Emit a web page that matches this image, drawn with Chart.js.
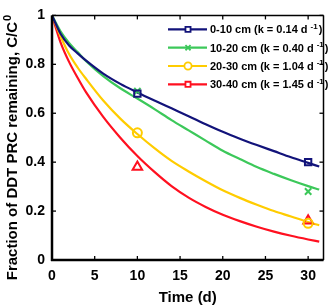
<!DOCTYPE html>
<html>
<head>
<meta charset="utf-8">
<script src="https://cdn.jsdelivr.net/npm/chart.js@4.4.1/dist/chart.umd.min.js"></script>
<style>
  html, body { margin: 0; padding: 0; background: #fff; }
  #wrap { width: 331px; height: 307px; }
</style>
</head>
<body>
<div id="wrap"><canvas id="chart"></canvas></div>
<script>
  // model curves
  const curveDays = [0, 1, 2, 3, 4, 6, 8, 10, 12, 14, 16, 18, 20, 22, 24, 26, 28, 30, 31.3];
  const fit0to10 = [1, 0.925, 0.877, 0.845, 0.815, 0.762, 0.72, 0.685, 0.652, 0.62, 0.588, 0.555, 0.524, 0.496, 0.47, 0.445, 0.42, 0.397, 0.382];
  const fit10to20 = [1, 0.935, 0.887, 0.85, 0.813, 0.752, 0.702, 0.66, 0.617, 0.572, 0.53, 0.488, 0.447, 0.413, 0.38, 0.352, 0.326, 0.302, 0.288];
  const fit20to30 = [1, 0.915, 0.842, 0.787, 0.74, 0.652, 0.578, 0.515, 0.457, 0.405, 0.362, 0.322, 0.285, 0.254, 0.226, 0.2, 0.178, 0.155, 0.142];
  const fit30to40 = [1, 0.89, 0.81, 0.745, 0.685, 0.585, 0.5, 0.425, 0.36, 0.302, 0.255, 0.217, 0.185, 0.159, 0.136, 0.116, 0.099, 0.084, 0.075];

  // measured points
  const sampleDays = [10, 30];
  const obs0to10 = [0.68, 0.40];
  const obs10to20 = [0.69, 0.28];
  const obs20to30 = [0.52, 0.15];
  const obs30to40 = [0.38, 0.16];

  const depthLabels = ["0-10 cm", "10-20 cm", "20-30 cm", "30-40 cm"];
  const rateLabels = ["0.14", "0.40", "1.04", "1.45"];
  const xTicks = [0, 5, 10, 15, 20, 25, 30];
  const yTicks = [0, 0.2, 0.4, 0.6, 0.8, 1];
  const yTitle = "Fraction of DDT PRC remaining, C/C";
  const yTitleSup = "0";

  const colors = ["#12137a", "#3cc85a", "#ffcc00", "#ff1020"];
  const markers = ["rect", "crossRot", "circle", "triangle"];
  const legendMarkers = ["rect", "crossRot", "circle", "rect"];
  const fonts = "'Liberation Sans', Arial, sans-serif";

  const pairs = (xs, ys) => xs.map((x, i) => ({ x: x, y: ys[i] }));

  const fits = [fit0to10, fit10to20, fit20to30, fit30to40];
  const observed = [obs0to10, obs10to20, obs20to30, obs30to40];

  const datasets = [];
  fits.forEach((fit, i) => {
    datasets.push({
      data: pairs(curveDays, fit),
      showLine: true,
      borderColor: colors[i],
      borderWidth: 2.2,
      pointRadius: 0,
      cubicInterpolationMode: "monotone",
      order: 2,
    });
  });
  observed.forEach((obs, i) => {
    datasets.push({
      data: pairs(sampleDays, obs),
      showLine: false,
      borderColor: colors[i],
      backgroundColor: "rgba(0,0,0,0)",
      pointStyle: markers[i],
      pointRadius: markers[i] === "triangle" ? 5.5 : 4.5,
      pointBorderWidth: 2,
      order: 1,
    });
  });

  const frameAndLegend = {
    id: "frameAndLegend",
    afterDraw(chart) {
      const { ctx, chartArea: a, scales } = chart;
      const sx = scales.x;
      const sy = scales.y;
      ctx.save();
      ctx.strokeStyle = "#000";
      ctx.lineWidth = 1.3;
      const seg = (x1, y1, x2, y2) => {
        ctx.beginPath();
        ctx.moveTo(x1, y1);
        ctx.lineTo(x2, y2);
        ctx.stroke();
      };
      xTicks.forEach((t) => {
        const px = sx.getPixelForValue(t);
        seg(px, a.bottom, px, a.bottom - 4);
        seg(px, a.top, px, a.top + 4);
      });
      yTicks.forEach((t) => {
        const py = sy.getPixelForValue(t);
        seg(a.left, py, a.left + 4, py);
        seg(a.right, py, a.right - 4, py);
      });
      ctx.lineWidth = 1.5;
      seg(a.left, a.top, a.right, a.top);
      seg(a.right, a.top, a.right, a.bottom);
      ctx.lineWidth = 2.5;
      seg(a.left, a.top, a.left, a.bottom + 1);
      seg(a.left - 1, a.bottom, a.right, a.bottom);

      // y title, rotated, with superscript
      ctx.save();
      ctx.translate(12, 148);
      ctx.rotate(-Math.PI / 2);
      ctx.fillStyle = "#000";
      ctx.textBaseline = "middle";
      ctx.textAlign = "left";
      ctx.font = "bold 15px " + fonts;
      const tw = ctx.measureText(yTitle).width;
      ctx.font = "bold 11px " + fonts;
      const sw = ctx.measureText(yTitleSup).width;
      const start = -(tw + sw) / 2;
      ctx.font = "bold 15px " + fonts;
      ctx.fillText(yTitle, start, 1);
      ctx.font = "bold 11px " + fonts;
      ctx.fillText(yTitleSup, start + tw + 1, -4);
      ctx.restore();

      // legend
      const x0 = a.left + 116;
      const x1 = a.left + 155;
      const xm = a.left + 136;
      const xt = a.left + 158;
      depthLabels.forEach((lab, i) => {
        const yy = a.top + 14 + i * 18.3;
        ctx.strokeStyle = colors[i];
        ctx.lineWidth = 2.2;
        seg(x0, yy, x1, yy);
        ctx.fillStyle = "#fff";
        ctx.lineWidth = 1.8;
        Chart.helpers.drawPoint(ctx, { pointStyle: legendMarkers[i], radius: 3.6, rotation: 0, borderWidth: 1.8 }, xm, yy);
        ctx.fillStyle = "#000";
        ctx.textBaseline = "middle";
        ctx.textAlign = "left";
        ctx.font = "bold 11px " + fonts;
        const main = lab + " (k = " + rateLabels[i] + " d ";
        ctx.fillText(main, xt, yy + 1);
        let w = ctx.measureText(main).width;
        ctx.font = "bold 8px " + fonts;
        ctx.fillText("-1", xt + w, yy - 3);
        w += ctx.measureText("-1").width + 1;
        ctx.font = "bold 11px " + fonts;
        ctx.fillText(")", xt + w, yy + 1);
      });
      ctx.restore();
    },
  };

  new Chart(document.getElementById("chart"), {
    type: "scatter",
    data: { datasets: datasets },
    plugins: [frameAndLegend],
    options: {
      responsive: true,
      maintainAspectRatio: false,
      animation: false,
      layout: { padding: { top: 10, right: 3, left: 0, bottom: 0 } },
      plugins: {
        legend: { display: false },
        tooltip: { enabled: false },
      },
      scales: {
        x: {
          type: "linear",
          min: 0,
          max: 31.8,
          afterFit: (scale) => {
            scale.height = 47;
            scale.paddingLeft = 0;
            scale.paddingRight = 0;
          },
          afterBuildTicks: (scale) => { scale.ticks = xTicks.map((v) => ({ value: v })); },
          grid: { display: false, drawTicks: false },
          border: { display: false },
          ticks: {
            color: "#000",
            padding: 8,
            font: { family: fonts, size: 14, weight: "bold" },
            callback: (v) => String(v),
          },
          title: {
            display: true,
            text: "Time (d)",
            color: "#000",
            padding: { top: 2, bottom: 0 },
            font: { family: fonts, size: 15, weight: "bold" },
          },
        },
        y: {
          min: 0,
          max: 1,
          afterFit: (scale) => { scale.width = 52; },
          afterBuildTicks: (scale) => { scale.ticks = yTicks.map((v) => ({ value: v })); },
          grid: { display: false, drawTicks: false },
          border: { display: false },
          ticks: {
            color: "#000",
            padding: 7,
            font: { family: fonts, size: 14, weight: "bold" },
            callback: (v) => String(+v.toFixed(1)),
          },
          title: { display: false },
        },
      },
    },
  });
</script>
</body>
</html>
